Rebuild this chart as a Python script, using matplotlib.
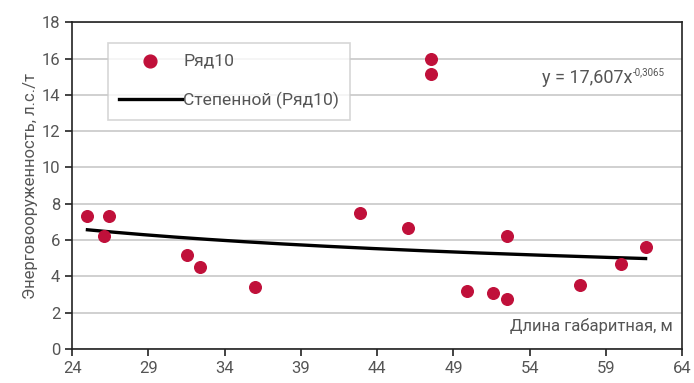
import matplotlib

matplotlib.use("Agg")
import matplotlib.pyplot as plt
import numpy as np

# values
length_m = [25.0, 26.1, 26.4, 31.5, 32.4, 36.0, 42.9, 46.0, 47.5, 47.5,
            49.9, 51.6, 52.5, 52.5, 57.3, 60.0, 61.6]
power_ratio = [7.35, 6.2, 7.35, 5.2, 4.5, 3.4, 7.5, 6.65, 16.0, 15.15,
               3.2, 3.1, 2.75, 6.2, 3.5, 4.7, 5.6]
fit_coef = 17.607
fit_exp = -0.3065
x_ticks = [24, 29, 34, 39, 44, 49, 54, 59, 64]
y_ticks = [0, 2, 4, 6, 8, 10, 12, 14, 16, 18]

RED = "#c0103a"
GREY_TXT = "#555555"

plt.rcParams["font.family"] = ["Roboto", "DejaVu Sans"]

fig = plt.figure(figsize=(6.94, 3.83), dpi=100)
ax = fig.add_axes([0.104, 0.089, 0.879, 0.853])

ax.scatter(length_m, power_ratio, s=70, color=RED, zorder=3, label="Ряд10")

xs = np.linspace(min(length_m), max(length_m), 200)
ax.plot(xs, fit_coef * xs ** fit_exp, color="black", lw=2.4, zorder=2,
        label="Степенной (Ряд10)")

ax.set_xlim(24, 64)
ax.set_ylim(0, 18)
ax.set_xticks(x_ticks)
ax.set_yticks(y_ticks)
ax.yaxis.grid(True, color="#c8c8c8", lw=1.2)
ax.set_axisbelow(True)
for s in ax.spines.values():
    s.set_color("#222222")
    s.set_linewidth(1.2)
ax.tick_params(direction="out", length=5, width=1.2, colors="#222222",
               labelcolor=GREY_TXT, labelsize=12)

ax.set_ylabel("Энерговооруженность, л.с./т", fontsize=12, color=GREY_TXT,
              labelpad=3)
ax.text(0.985, 0.045, "Длина габаритная, м", transform=ax.transAxes,
        ha="right", va="bottom", fontsize=12, color=GREY_TXT)

# trend equation, superscript drawn as a second smaller text
eq = ax.text(0.918, 0.83, "y = 17,607x", transform=ax.transAxes,
             ha="right", va="center", fontsize=13, color=GREY_TXT)
ax.annotate("-0,3065", xy=(1, 1), xycoords=eq, xytext=(0.5, 1),
            textcoords="offset points", ha="left", va="top", fontsize=7,
            color=GREY_TXT)

leg = ax.legend(loc="upper left", bbox_to_anchor=(0.059, 0.937), fontsize=12.6,
                frameon=True, fancybox=False, borderpad=0.6, labelspacing=1.35,
                handlelength=3.6, handletextpad=0.1, borderaxespad=0,
                markerscale=1.1)
leg.get_frame().set_edgecolor("#cccccc")
leg.get_frame().set_linewidth(1.2)
for t in leg.get_texts():
    t.set_color(GREY_TXT)

fig.savefig("out.png", dpi=100)
